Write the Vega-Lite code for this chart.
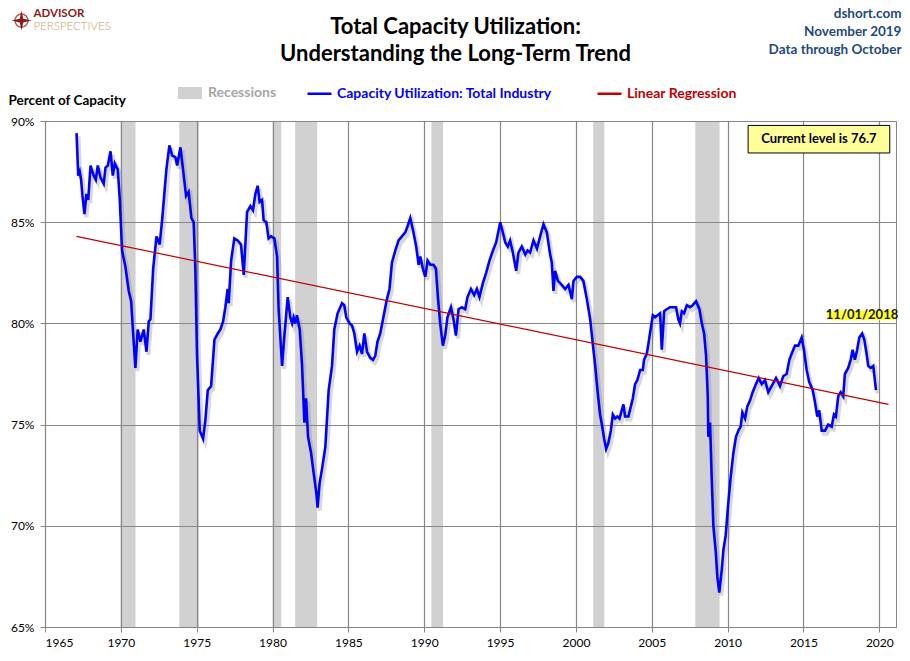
{
"$schema": "https://vega.github.io/schema/vega-lite/v6.json",
"width": 851,
"height": 506,
"autosize": {"type": "none"},
"padding": {"left": 45, "top": 121, "right": 14, "bottom": 34},
"background": "white",
"title": {"text": ["Total Capacity Utilization:", "Understanding  the Long-Term Trend"], "font": "Lato", "fontSize": 22, "fontWeight": "bold", "color": "#000000", "lineHeight": 27, "anchor": "middle", "frame": "group", "dx": -15, "offset": -59},
"config": {
  "font": "Lato",
  "view": {"stroke": "#868686", "strokeWidth": 1},
  "axis": {"gridColor": "#868686", "gridWidth": 1.2, "domain": false, "tickColor": "#868686", "tickSize": 5, "labelFont": "Lato", "labelFontSize": 12, "labelColor": "#000000"}
},
"layer": [
  {
    "data": {"values": [
      {"s": 1969.98, "e": 1970.97}, {"s": 1973.85, "e": 1975.15}, {"s": 1980.0, "e": 1980.57},
      {"s": 1981.49, "e": 1982.94}, {"s": 1990.47, "e": 1991.24}, {"s": 2001.14, "e": 2001.87},
      {"s": 2007.87, "e": 2009.47}
    ]},
    "mark": {"type": "rect", "opacity": 0.4},
    "encoding": {
      "x": {"field": "s", "type": "quantitative", "scale": {"domain": [1965, 2021.1], "nice": false, "zero": false},
        "axis": {"values": [1965,1970,1975,1980,1985,1990,1995,2000,2005,2010,2015,2020], "format": "d", "title": null, "labelPadding": 5, "grid": true}},
      "x2": {"field": "e"},
      "fill": {"datum": "Recessions", "type": "nominal", "scale": {"domain": ["Recessions"], "range": ["#8c8c8c"]},
        "legend": {"orient": "none", "legendX": 132, "legendY": -41, "title": null, "symbolType": "M-1,-0.5H1V0.5H-1Z", "symbolSize": 576, "symbolOpacity": 0.4, "labelFont": "Lato", "labelFontSize": 14, "labelFontWeight": "bold", "labelColor": "#a6a6a6", "labelOffset": 5}}
    }
  },
  {
    "data": {"name": "cu"},
    "mark": {"type": "line", "color": "#7f7f7f", "opacity": 0.3, "strokeWidth": 4, "xOffset": 2, "yOffset": 3},
    "encoding": {
      "x": {"field": "t", "type": "quantitative"},
      "y": {"field": "v", "type": "quantitative"}
    }
  },
  {
    "data": {"name": "cu"},
    "mark": {"type": "line", "strokeWidth": 2.6},
    "encoding": {
      "x": {"field": "t", "type": "quantitative"},
      "y": {"field": "v", "type": "quantitative", "scale": {"domain": [65, 90], "nice": false, "zero": false},
        "axis": {"values": [65,70,75,80,85,90], "labelExpr": "datum.value + '%'", "labelPadding": 6, "grid": true,
          "title": "Percent of Capacity", "titleAngle": 0, "titleAlign": "left", "titleBaseline": "middle", "titleX": -37, "titleY": -21,
          "titleFont": "Lato", "titleFontSize": 13.5, "titleFontWeight": "bold", "titleColor": "#000000"}},
      "stroke": {"datum": "Capacity Utilization: Total Industry", "type": "nominal",
        "scale": {"domain": ["Capacity Utilization: Total Industry", "Linear Regression"], "range": ["#0000ff", "#c00000"]},
        "legend": {"orient": "none", "legendX": 261, "legendY": -41, "direction": "horizontal", "title": null, "symbolType": "stroke", "symbolSize": 576, "symbolStrokeWidth": 2.5,
          "labelFont": "Lato", "labelFontSize": 14, "labelFontWeight": "bold", "labelOffset": 4, "columnPadding": 40, "labelLimit": 400,
          "labelColor": {"expr": "datum.value == 'Linear Regression' ? '#c00000' : '#0000ff'"}}}
    }
  },
  {
    "data": {"values": [{"t": 1967.07, "v": 84.3}, {"t": 2020.6, "v": 76.0}]},
    "mark": {"type": "line", "strokeWidth": 1.2},
    "encoding": {
      "x": {"field": "t", "type": "quantitative"},
      "y": {"field": "v", "type": "quantitative"},
      "stroke": {"datum": "Linear Regression", "type": "nominal"}
    }
  },
  {
    "data": {"values": [{"x1": 2011.35, "x2": 2020.69, "y1": 89.78, "y2": 88.42}]},
    "mark": {"type": "rect", "fill": "#000000", "opacity": 0.25, "xOffset": 3, "yOffset": 3},
    "encoding": {"x": {"field": "x1", "type": "quantitative"}, "x2": {"field": "x2"}, "y": {"field": "y1", "type": "quantitative"}, "y2": {"field": "y2"}}
  },
  {
    "data": {"values": [{"x1": 2011.35, "x2": 2020.69, "y1": 89.78, "y2": 88.42}]},
    "mark": {"type": "rect", "fill": "#ffff99", "stroke": "#000000", "strokeWidth": 1},
    "encoding": {"x": {"field": "x1", "type": "quantitative"}, "x2": {"field": "x2"}, "y": {"field": "y1", "type": "quantitative"}, "y2": {"field": "y2"}}
  },
  {
    "data": {"values": [{"x": 2016.02, "y": 89.1, "label": "Current level is 76.7"}]},
    "mark": {"type": "text", "font": "Lato", "fontSize": 13, "fontWeight": "bold", "color": "#000000", "align": "center", "baseline": "middle"},
    "encoding": {"x": {"field": "x", "type": "quantitative"}, "y": {"field": "y", "type": "quantitative"}, "text": {"field": "label"}}
  },
  {
    "data": {"values": [{"x1": 2016.6, "x2": 2021.08, "y1": 80.64, "y2": 80.15}]},
    "mark": {"type": "rect", "fill": "#ffff33"},
    "encoding": {"x": {"field": "x1", "type": "quantitative"}, "x2": {"field": "x2"}, "y": {"field": "y1", "type": "quantitative"}, "y2": {"field": "y2"}}
  },
  {
    "data": {"values": [{"x": 2018.86, "y": 80.4, "label": "11/01/2018"}]},
    "mark": {"type": "text", "font": "Lato", "fontSize": 13, "fontWeight": "bold", "color": "#1a1a1a", "align": "center", "baseline": "middle"},
    "encoding": {"x": {"field": "x", "type": "quantitative"}, "y": {"field": "y", "type": "quantitative"}, "text": {"field": "label"}}
  },
  {
    "data": {"values": [{"x": 2021.46, "y": 95.27, "label": "dshort.com"}, {"x": 2021.46, "y": 94.38, "label": "November 2019"}, {"x": 2021.46, "y": 93.49, "label": "Data through October"}]},
    "mark": {"type": "text", "font": "Lato", "fontSize": 13.5, "fontWeight": "bold", "color": "#1f497d", "align": "right", "baseline": "middle"},
    "encoding": {"x": {"field": "x", "type": "quantitative"}, "y": {"field": "y", "type": "quantitative"}, "text": {"field": "label"}}
  },
  {
    "data": {"values": [{"x": 1964.24, "y": 95.3, "label": "ADVISOR"}]},
    "mark": {"type": "text", "font": "Lato", "fontSize": 11.5, "fontWeight": "bold", "color": "#8b1a1a", "align": "left", "baseline": "middle"},
    "encoding": {"x": {"field": "x", "type": "quantitative"}, "y": {"field": "y", "type": "quantitative"}, "text": {"field": "label"}}
  },
  {
    "data": {"values": [{"x": 1964.24, "y": 94.62, "label": "PERSPECTIVES"}]},
    "mark": {"type": "text", "font": "Lato", "fontSize": 11.5, "fontWeight": 300, "color": "#c8a165", "align": "left", "baseline": "middle"},
    "encoding": {"x": {"field": "x", "type": "quantitative"}, "y": {"field": "y", "type": "quantitative"}, "text": {"field": "label"}}
  },
  {
    "data": {"values": [{"x": 1963.45, "y": 94.96}]},
    "mark": {"type": "point", "shape": "circle", "filled": false, "stroke": "#8b1a1a", "strokeWidth": 1.5, "size": 170},
    "encoding": {"x": {"field": "x", "type": "quantitative"}, "y": {"field": "y", "type": "quantitative"}}
  },
  {
    "data": {"values": [{"x": 1963.45, "y": 94.96}]},
    "mark": {"type": "point", "shape": "M0,-1L0.18,-0.18L1,0L0.18,0.18L0,1L-0.18,0.18L-1,0L-0.18,-0.18Z", "filled": true, "fill": "#8b1a1a", "opacity": 1, "size": 400},
    "encoding": {"x": {"field": "x", "type": "quantitative"}, "y": {"field": "y", "type": "quantitative"}}
  }
],
"datasets": {
  "cu": [
    {"t":1967.08,"v":89.4},{"t":1967.19,"v":87.3},{"t":1967.29,"v":87.5},{"t":1967.38,"v":87.1},{"t":1967.47,"v":86.3},{"t":1967.6,"v":85.4},{"t":1967.73,"v":86.4},{"t":1967.85,"v":86.1},
    {"t":1968.0,"v":87.8},{"t":1968.21,"v":87.3},{"t":1968.35,"v":87.1},{"t":1968.48,"v":87.8},{"t":1968.66,"v":87.2},{"t":1968.87,"v":86.9},{"t":1968.99,"v":87.7},
    {"t":1969.14,"v":87.8},{"t":1969.32,"v":88.5},{"t":1969.47,"v":87.3},{"t":1969.6,"v":87.9},{"t":1969.8,"v":87.6},{"t":1969.93,"v":86.1},
    {"t":1970.08,"v":83.6},{"t":1970.3,"v":82.8},{"t":1970.52,"v":81.6},{"t":1970.68,"v":81.1},{"t":1970.81,"v":79.5},{"t":1970.96,"v":77.8},
    {"t":1971.11,"v":79.7},{"t":1971.29,"v":79.1},{"t":1971.51,"v":79.7},{"t":1971.69,"v":78.6},{"t":1971.84,"v":80.1},{"t":1971.95,"v":80.2},
    {"t":1972.13,"v":82.7},{"t":1972.35,"v":84.3},{"t":1972.56,"v":83.9},{"t":1972.72,"v":85.1},{"t":1973.0,"v":87.6},{"t":1973.2,"v":88.8},{"t":1973.38,"v":88.3},{"t":1973.6,"v":88.2},{"t":1973.71,"v":87.8},{"t":1973.93,"v":88.7},
    {"t":1974.1,"v":87.6},{"t":1974.3,"v":86.3},{"t":1974.47,"v":86.5},{"t":1974.65,"v":85.2},{"t":1974.8,"v":85.0},{"t":1974.91,"v":82.7},
    {"t":1975.02,"v":78.5},{"t":1975.2,"v":74.7},{"t":1975.42,"v":74.3},{"t":1975.57,"v":75.2},{"t":1975.73,"v":76.7},{"t":1975.95,"v":76.9},
    {"t":1976.17,"v":79.2},{"t":1976.39,"v":79.5},{"t":1976.56,"v":79.7},{"t":1976.74,"v":80.1},{"t":1976.89,"v":80.8},{"t":1977.04,"v":81.7},{"t":1977.11,"v":81.0},{"t":1977.27,"v":83.1},{"t":1977.48,"v":84.2},{"t":1977.7,"v":84.1},{"t":1977.92,"v":83.9},
    {"t":1978.1,"v":82.4},{"t":1978.32,"v":85.5},{"t":1978.54,"v":85.8},{"t":1978.71,"v":85.6},{"t":1978.87,"v":86.4},{"t":1979.02,"v":86.8},{"t":1979.15,"v":86.0},{"t":1979.31,"v":86.1},{"t":1979.41,"v":85.1},{"t":1979.59,"v":85.0},{"t":1979.74,"v":84.2},{"t":1979.9,"v":84.3},
    {"t":1980.12,"v":84.2},{"t":1980.3,"v":83.3},{"t":1980.4,"v":80.7},{"t":1980.63,"v":77.9},{"t":1980.78,"v":79.4},{"t":1981.0,"v":81.3},{"t":1981.17,"v":80.3},{"t":1981.29,"v":80.0},{"t":1981.39,"v":80.3},{"t":1981.5,"v":80.0},{"t":1981.61,"v":80.4},{"t":1981.79,"v":79.7},{"t":1981.94,"v":78.0},
    {"t":1982.1,"v":75.1},{"t":1982.21,"v":76.3},{"t":1982.34,"v":74.4},{"t":1982.54,"v":73.6},{"t":1982.71,"v":72.6},{"t":1982.89,"v":71.6},{"t":1982.97,"v":70.9},
    {"t":1983.1,"v":72.1},{"t":1983.26,"v":72.8},{"t":1983.48,"v":73.9},{"t":1983.7,"v":76.7},{"t":1983.92,"v":77.9},{"t":1984.07,"v":79.7},{"t":1984.29,"v":80.5},{"t":1984.58,"v":81.0},{"t":1984.73,"v":80.9},{"t":1984.86,"v":80.3},
    {"t":1985.08,"v":80.0},{"t":1985.24,"v":79.9},{"t":1985.39,"v":79.5},{"t":1985.57,"v":78.6},{"t":1985.74,"v":78.9},{"t":1985.9,"v":78.5},{"t":1986.05,"v":79.5},{"t":1986.23,"v":78.6},{"t":1986.44,"v":78.3},{"t":1986.62,"v":78.2},{"t":1986.77,"v":78.4},{"t":1986.92,"v":79.1},
    {"t":1987.1,"v":79.5},{"t":1987.28,"v":80.2},{"t":1987.54,"v":81.2},{"t":1987.71,"v":81.7},{"t":1987.87,"v":83.0},{"t":1988.09,"v":83.6},{"t":1988.31,"v":84.1},{"t":1988.53,"v":84.3},{"t":1988.75,"v":84.5},{"t":1988.9,"v":84.8},
    {"t":1989.08,"v":85.2},{"t":1989.26,"v":84.6},{"t":1989.47,"v":83.8},{"t":1989.63,"v":82.9},{"t":1989.74,"v":83.3},{"t":1989.91,"v":82.7},{"t":1990.07,"v":82.3},{"t":1990.22,"v":83.1},{"t":1990.4,"v":82.9},{"t":1990.61,"v":82.9},{"t":1990.77,"v":82.7},{"t":1990.9,"v":81.3},
    {"t":1991.05,"v":80.0},{"t":1991.23,"v":78.9},{"t":1991.38,"v":79.4},{"t":1991.53,"v":80.3},{"t":1991.76,"v":80.8},{"t":1991.93,"v":80.2},{"t":1992.09,"v":79.4},{"t":1992.26,"v":80.7},{"t":1992.48,"v":80.8},{"t":1992.7,"v":80.7},{"t":1992.85,"v":81.3},
    {"t":1993.08,"v":81.7},{"t":1993.29,"v":81.4},{"t":1993.47,"v":81.7},{"t":1993.64,"v":81.3},{"t":1993.87,"v":82.0},{"t":1994.08,"v":82.5},{"t":1994.3,"v":83.1},{"t":1994.53,"v":83.6},{"t":1994.74,"v":84.0},
    {"t":1995.01,"v":85.0},{"t":1995.18,"v":84.5},{"t":1995.34,"v":84.0},{"t":1995.51,"v":83.8},{"t":1995.66,"v":84.1},{"t":1995.84,"v":83.5},{"t":1996.06,"v":82.6},{"t":1996.21,"v":83.5},{"t":1996.43,"v":83.8},{"t":1996.66,"v":83.4},{"t":1996.81,"v":83.6},{"t":1996.98,"v":83.5},
    {"t":1997.2,"v":84.1},{"t":1997.43,"v":83.7},{"t":1997.64,"v":84.3},{"t":1997.86,"v":84.9},{"t":1998.08,"v":84.5},{"t":1998.3,"v":83.4},{"t":1998.41,"v":83.0},{"t":1998.52,"v":81.6},{"t":1998.63,"v":82.6},{"t":1998.81,"v":82.1},
    {"t":1999.07,"v":81.9},{"t":1999.29,"v":81.7},{"t":1999.51,"v":81.9},{"t":1999.73,"v":81.2},{"t":1999.84,"v":82.1},{"t":2000.06,"v":82.3},{"t":2000.28,"v":82.3},{"t":2000.49,"v":82.1},{"t":2000.72,"v":81.2},{"t":2000.94,"v":80.2},
    {"t":2001.11,"v":79.0},{"t":2001.27,"v":77.9},{"t":2001.42,"v":76.7},{"t":2001.59,"v":75.5},{"t":2001.71,"v":75.0},{"t":2001.86,"v":74.3},{"t":2001.99,"v":73.8},
    {"t":2002.14,"v":74.1},{"t":2002.3,"v":74.7},{"t":2002.43,"v":75.5},{"t":2002.58,"v":75.3},{"t":2002.73,"v":75.4},{"t":2002.87,"v":75.3},{"t":2003.02,"v":75.7},{"t":2003.13,"v":76.0},{"t":2003.24,"v":75.4},{"t":2003.46,"v":75.4},{"t":2003.62,"v":75.9},{"t":2003.75,"v":76.3},{"t":2003.9,"v":77.0},
    {"t":2004.05,"v":77.2},{"t":2004.23,"v":77.7},{"t":2004.41,"v":77.7},{"t":2004.49,"v":78.2},{"t":2004.67,"v":78.5},{"t":2004.78,"v":79.0},{"t":2004.94,"v":79.8},
    {"t":2005.07,"v":80.4},{"t":2005.22,"v":80.3},{"t":2005.38,"v":80.4},{"t":2005.55,"v":80.5},{"t":2005.66,"v":78.7},{"t":2005.82,"v":80.6},{"t":2005.99,"v":80.7},{"t":2006.21,"v":80.8},{"t":2006.42,"v":80.8},{"t":2006.6,"v":80.8},{"t":2006.75,"v":80.2},{"t":2006.86,"v":80.0},{"t":2006.98,"v":80.6},
    {"t":2007.13,"v":80.5},{"t":2007.31,"v":80.9},{"t":2007.52,"v":80.8},{"t":2007.7,"v":80.9},{"t":2007.92,"v":81.1},{"t":2008.14,"v":80.7},{"t":2008.3,"v":80.0},{"t":2008.45,"v":79.5},{"t":2008.58,"v":78.4},{"t":2008.69,"v":76.4},{"t":2008.73,"v":74.4},{"t":2008.84,"v":75.1},{"t":2008.95,"v":72.4},
    {"t":2009.06,"v":70.0},{"t":2009.22,"v":68.7},{"t":2009.32,"v":67.5},{"t":2009.45,"v":66.7},{"t":2009.61,"v":67.8},{"t":2009.72,"v":68.8},{"t":2009.87,"v":69.5},
    {"t":2010.04,"v":71.1},{"t":2010.2,"v":72.4},{"t":2010.38,"v":73.6},{"t":2010.55,"v":74.4},{"t":2010.71,"v":74.7},{"t":2010.86,"v":74.9},{"t":2010.97,"v":75.6},
    {"t":2011.15,"v":75.3},{"t":2011.3,"v":75.9},{"t":2011.48,"v":76.2},{"t":2011.65,"v":76.6},{"t":2011.87,"v":77.0},{"t":2012.05,"v":77.3},{"t":2012.25,"v":77.0},{"t":2012.46,"v":77.2},{"t":2012.68,"v":76.6},{"t":2012.9,"v":76.9},
    {"t":2013.19,"v":77.3},{"t":2013.45,"v":76.9},{"t":2013.67,"v":77.4},{"t":2013.89,"v":77.5},{"t":2014.07,"v":78.2},{"t":2014.22,"v":78.5},{"t":2014.44,"v":78.9},{"t":2014.66,"v":78.9},{"t":2014.88,"v":79.3},
    {"t":2015.03,"v":78.7},{"t":2015.21,"v":77.7},{"t":2015.38,"v":77.1},{"t":2015.61,"v":76.7},{"t":2015.76,"v":76.1},{"t":2015.91,"v":75.4},{"t":2016.04,"v":75.7},{"t":2016.2,"v":74.7},{"t":2016.42,"v":74.7},{"t":2016.63,"v":75.0},{"t":2016.86,"v":74.9},
    {"t":2017.01,"v":75.5},{"t":2017.14,"v":75.4},{"t":2017.29,"v":76.4},{"t":2017.45,"v":76.6},{"t":2017.62,"v":76.4},{"t":2017.73,"v":77.5},{"t":2017.95,"v":77.8},
    {"t":2018.11,"v":78.2},{"t":2018.24,"v":78.7},{"t":2018.39,"v":78.2},{"t":2018.54,"v":78.7},{"t":2018.68,"v":79.3},{"t":2018.87,"v":79.5},{"t":2019.01,"v":79.2},{"t":2019.16,"v":78.5},{"t":2019.27,"v":77.9},{"t":2019.43,"v":77.8},{"t":2019.6,"v":77.9},{"t":2019.78,"v":76.7}
  ]
}
}
